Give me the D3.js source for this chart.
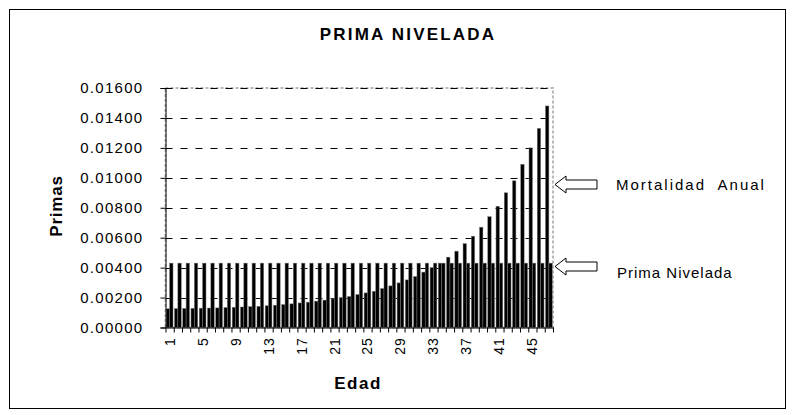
<!DOCTYPE html>
<html><head><meta charset="utf-8">
<script src="https://cdn.jsdelivr.net/npm/d3@7/dist/d3.min.js"></script>
<style>
html,body{margin:0;padding:0;background:#fff;}
svg{display:block;font-family:"Liberation Sans",Arial,sans-serif;}
</style></head>
<body><svg id="c" width="794" height="415"></svg>
<script>
const edades = ["1","2","3","4","5","6","7","8","9","10","11","12","13","14","15","16","17","18","19","20","21","22","23","24","25","26","27","28","29","30","31","32","33","34","35","36","37","38","39","40","41","42","43","44","45","46","47"];
const mortalidad = [0.00125,0.00126,0.00127,0.00128,0.00129,0.00130,0.00131,0.00133,0.00135,0.00137,0.00139,0.00142,0.00145,0.00149,0.00153,0.00158,0.00164,0.00169,0.00176,0.00183,0.00191,0.00200,0.00207,0.00220,0.00231,0.00242,0.00260,0.00278,0.00298,0.00318,0.00340,0.00370,0.00400,0.00430,0.00470,0.00510,0.00560,0.00610,0.00670,0.00740,0.00810,0.00900,0.00980,0.01090,0.01200,0.01330,0.01480];
const primaNivelada = [0.0043,0.0043,0.0043,0.0043,0.0043,0.0043,0.0043,0.0043,0.0043,0.0043,0.0043,0.0043,0.0043,0.0043,0.0043,0.0043,0.0043,0.0043,0.0043,0.0043,0.0043,0.0043,0.0043,0.0043,0.0043,0.0043,0.0043,0.0043,0.0043,0.0043,0.0043,0.0043,0.0043,0.0043,0.0043,0.0043,0.0043,0.0043,0.0043,0.0043,0.0043,0.0043,0.0043,0.0043,0.0043,0.0043,0.0043];
const yTicks = [0,0.002,0.004,0.006,0.008,0.010,0.012,0.014,0.016];
const xTickLabels = ["1","5","9","13","17","21","25","29","33","37","41","45"];
const seriesNames = ["Mortalidad  Anual","Prima Nivelada"];
const seriesArrowValues = [0.0096,0.0041];
const titulo = "PRIMA NIVELADA";

const svg = d3.select("#c");
const L = 165.5, R = 553, T = 88, B = 327.5;

// outer border
svg.append("rect").attr("x",9.5).attr("y",9.5).attr("width",776).attr("height",399)
  .attr("fill","#fff").attr("stroke","#000").attr("stroke-width",1);

const y = d3.scaleLinear().domain([0,0.016]).range([B,T]);
const xLin = d3.scaleLinear().domain([0,edades.length]).range([L,R]);
const x0 = d3.scaleBand().domain(edades).range([L,R]).paddingInner(0.18).paddingOuter(0.09);
const x1 = d3.scaleBand().domain(["m","p"]).range([0,x0.bandwidth()]);

// plot area border (gray dashed)
svg.append("rect").attr("x",L).attr("y",T).attr("width",R-L).attr("height",B-T)
  .attr("fill","none").attr("stroke","#b8b8b8").attr("stroke-width",2).attr("stroke-dasharray","3,2");

// gridlines
svg.append("g").selectAll("line").data(yTicks.filter(d=>d>0)).join("line")
  .attr("x1",L).attr("x2",R).attr("y1",d=>Math.round(y(d))+0.5).attr("y2",d=>Math.round(y(d))+0.5)
  .attr("stroke","#000").attr("stroke-width",1).attr("stroke-dasharray","7,8");

// bars
const rows = edades.map((e,i)=>({e, m:mortalidad[i], p:primaNivelada[i]}));
const g = svg.append("g");
g.selectAll("rect.m").data(rows).join("rect").attr("class","m")
  .attr("x",d=>x0(d.e)+x1("m")).attr("width",x1.bandwidth())
  .attr("y",d=>y(d.m)).attr("height",d=>B-y(d.m))
  .attr("fill","#000").attr("stroke","#777").attr("stroke-width",0.5);
g.selectAll("rect.p").data(rows).join("rect").attr("class","p")
  .attr("x",d=>x0(d.e)+x1("p")).attr("width",x1.bandwidth())
  .attr("y",d=>y(d.p)).attr("height",d=>B-y(d.p))
  .attr("fill","#000").attr("stroke","#777").attr("stroke-width",0.5);

// y axis
const yAx = svg.append("g").attr("transform",`translate(${L},0)`)
  .call(d3.axisLeft(y).tickValues(yTicks).tickFormat(d3.format(".5f")).tickSize(5).tickPadding(17));
yAx.select(".domain").attr("stroke","#000");
yAx.selectAll("text").attr("font-size",15).attr("fill","#000").attr("letter-spacing","1.3px");

// x axis
const xAx = svg.append("g").attr("transform",`translate(0,${B})`)
  .call(d3.axisBottom(xLin).tickValues(d3.range(0,edades.length+1)).tickFormat("").tickSize(5).tickSizeOuter(0));
xAx.select(".domain").attr("stroke","#000");
svg.append("g").selectAll("text").data(xTickLabels).join("text")
  .attr("transform",d=>`translate(${x0(d)+x0.bandwidth()/2+5},${B+10}) rotate(-90)`)
  .attr("text-anchor","end").attr("font-size",14).attr("letter-spacing","0.8px").text(d=>d);

// title & axis titles
svg.append("text").attr("x",408).attr("y",40).attr("text-anchor","middle")
  .attr("font-size",17).attr("font-weight","bold").attr("letter-spacing","2.2px").text(titulo);
svg.append("text").attr("transform","translate(62,206) rotate(-90)").attr("text-anchor","middle")
  .attr("font-size",17).attr("font-weight","bold").attr("letter-spacing","0.8px").text("Primas");
svg.append("text").attr("x",358).attr("y",389).attr("text-anchor","middle")
  .attr("font-size",17).attr("font-weight","bold").attr("letter-spacing","1.5px").text("Edad");

// annotation arrows
const arrowY = seriesArrowValues.map(v=>Math.round(y(v))+0.5);
const arrow = (cy) => `M555,${cy} L566,${cy-8.5} L566,${cy-4.5} L597,${cy-4.5} L597,${cy+4.5} L566,${cy+4.5} L566,${cy+8.5} Z`;
svg.append("g").selectAll("path").data(arrowY).join("path")
  .attr("d",d=>arrow(d)).attr("fill","#fff").attr("stroke","#000").attr("stroke-width",1);
svg.append("g").selectAll("text").data(seriesNames).join("text")
  .attr("x",(d,i)=>[616,617][i]).attr("y",(d,i)=>[arrowY[0]+5, arrowY[1]+11][i])
  .attr("font-size",15).attr("letter-spacing",(d,i)=>["2px","1px"][i])
  .style("white-space","pre").text(d=>d);
</script></body></html>
